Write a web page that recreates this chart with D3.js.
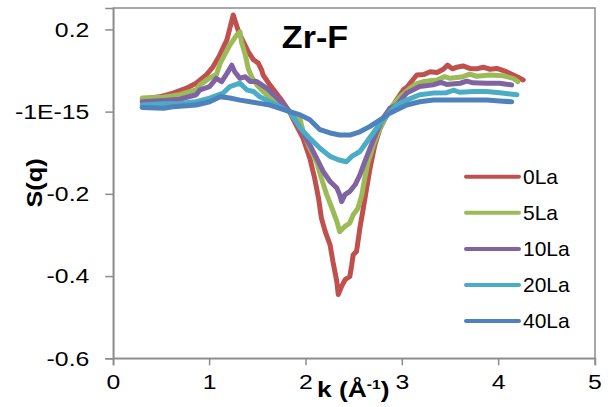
<!DOCTYPE html>
<html><head><meta charset="utf-8">
<script src="https://cdn.jsdelivr.net/npm/d3@7"></script>
<style>body{margin:0;background:#fff;} svg{display:block;font-family:"Liberation Sans",Arial,sans-serif;}</style>
</head><body>
<script>
const seriesNames = ["0La","5La","10La","20La","40La"];
const colors = ["#C0504D","#9BBB59","#8064A2","#4BACC6","#4F81BD"];
const xTicks = [0,1,2,3,4,5];
const yTicks = [0.2,0,-0.2,-0.4,-0.6];
const yTickLabels = ["0.2","-1E-15","-0.2","-0.4","-0.6"];

const k0 = [0.3,0.48,0.62,0.76,0.86,0.965,1.035,1.10,1.18,1.245,1.30,1.35,1.40,1.455,1.505,1.54,1.555,1.625,1.73,1.83,1.87,1.97,2.04,2.09,2.13,2.16,2.20,2.25,2.28,2.32,2.335,2.37,2.405,2.455,2.475,2.49,2.525,2.56,2.595,2.63,2.665,2.715,2.77,2.84,2.905,2.975,3.01,3.05,3.08,3.15,3.22,3.29,3.36,3.425,3.47,3.52,3.565,3.63,3.70,3.77,3.84,3.91,3.98,4.08,4.19,4.255];
const v0 = [0.031,0.036,0.045,0.057,0.069,0.089,0.109,0.135,0.175,0.235,0.195,0.170,0.146,0.126,0.118,0.101,0.089,0.065,0.033,0.0,-0.020,-0.065,-0.113,-0.162,-0.210,-0.259,-0.292,-0.324,-0.365,-0.413,-0.445,-0.425,-0.409,-0.401,-0.373,-0.348,-0.340,-0.283,-0.235,-0.186,-0.138,-0.081,-0.040,-0.008,0.016,0.041,0.053,0.060,0.069,0.089,0.090,0.097,0.095,0.103,0.113,0.104,0.108,0.111,0.105,0.104,0.108,0.103,0.105,0.097,0.085,0.077];

const k5 = [0.3,0.52,0.69,0.80,0.86,0.90,1.00,1.07,1.11,1.21,1.28,1.315,1.33,1.37,1.40,1.435,1.49,1.59,1.70,1.83,1.94,1.97,2.04,2.11,2.16,2.215,2.27,2.32,2.35,2.405,2.455,2.49,2.54,2.58,2.61,2.645,2.70,2.77,2.84,2.905,2.975,3.08,3.15,3.22,3.36,3.44,3.495,3.63,3.70,3.77,3.91,4.05,4.15,4.20];
const v5 = [0.033,0.035,0.041,0.049,0.053,0.065,0.082,0.090,0.118,0.162,0.186,0.194,0.170,0.138,0.105,0.085,0.065,0.041,0.024,0.0,-0.020,-0.048,-0.089,-0.122,-0.162,-0.202,-0.235,-0.267,-0.292,-0.279,-0.271,-0.251,-0.235,-0.202,-0.162,-0.122,-0.081,-0.040,-0.008,0.016,0.036,0.057,0.068,0.073,0.077,0.085,0.081,0.085,0.091,0.086,0.089,0.087,0.081,0.073];

const k10 = [0.3,0.52,0.69,0.86,0.90,1.00,1.07,1.125,1.18,1.23,1.26,1.315,1.37,1.42,1.49,1.59,1.70,1.83,1.94,2.04,2.11,2.18,2.25,2.32,2.35,2.37,2.405,2.455,2.51,2.56,2.61,2.665,2.735,2.80,2.87,2.94,3.045,3.18,3.32,3.40,3.46,3.60,3.67,3.735,3.875,4.01,4.135];
const v10 = [0.024,0.027,0.030,0.041,0.053,0.061,0.081,0.073,0.093,0.113,0.097,0.081,0.085,0.073,0.073,0.057,0.033,0.0,-0.040,-0.081,-0.113,-0.146,-0.170,-0.186,-0.202,-0.219,-0.202,-0.194,-0.178,-0.154,-0.122,-0.089,-0.049,-0.016,0.008,0.016,0.045,0.061,0.065,0.071,0.066,0.069,0.074,0.070,0.069,0.069,0.065];

const k20 = [0.3,0.52,0.69,0.86,1.00,1.14,1.21,1.315,1.385,1.455,1.52,1.625,1.73,1.83,1.94,2.04,2.145,2.25,2.335,2.42,2.475,2.56,2.645,2.735,2.84,2.94,3.045,3.18,3.32,3.46,3.53,3.60,3.735,3.875,4.01,4.19];
const v20 = [0.016,0.019,0.020,0.024,0.033,0.045,0.061,0.069,0.053,0.049,0.036,0.024,0.012,0.0,-0.040,-0.065,-0.089,-0.109,-0.117,-0.122,-0.109,-0.097,-0.069,-0.040,-0.008,0.016,0.028,0.041,0.045,0.046,0.052,0.047,0.049,0.049,0.046,0.041];

const k40 = [0.3,0.52,0.62,0.86,1.00,1.11,1.21,1.315,1.42,1.52,1.625,1.73,1.83,1.94,2.04,2.145,2.25,2.35,2.455,2.56,2.665,2.77,2.87,2.975,3.045,3.18,3.32,3.46,3.60,3.735,3.875,4.01,4.135];
const v40 = [0.010,0.008,0.012,0.016,0.024,0.036,0.033,0.028,0.024,0.020,0.016,0.008,0.0,-0.008,-0.020,-0.044,-0.052,-0.057,-0.057,-0.049,-0.036,-0.020,-0.004,0.008,0.016,0.024,0.028,0.028,0.028,0.028,0.028,0.026,0.024];

const kData = [k0,k5,k10,k20,k40];
const vData = [v0,v5,v10,v20,v40];

const W = 611, H = 407;
const svg = d3.select("body").append("svg").attr("width",W).attr("height",H);
const x = d3.scaleLinear().domain([0,5]).range([113.3,595]);
const y = d3.scaleLinear().domain([-0.6,0.252]).range([358.3,8]);
const axisColor = "#8c8c8c";
const SX = 1.18;

svg.append("rect").attr("x",x(0)).attr("y",y(0.252)).attr("width",x(5)-x(0)).attr("height",y(-0.6)-y(0.252))
  .attr("fill","none").attr("stroke",axisColor).attr("stroke-width",1.5);

const yAxis = d3.axisLeft(y).tickValues(yTicks).tickSize(8).tickPadding(15)
  .tickFormat((d,i)=>yTickLabels[i]);
const gy = svg.append("g").attr("transform",`translate(${x(0)},0)`).call(yAxis);
gy.select(".domain").attr("stroke",axisColor).attr("stroke-width",1.5);
gy.selectAll(".tick line").attr("stroke",axisColor).attr("stroke-width",1.5);
gy.selectAll(".tick text").attr("font-size",21).attr("fill","#000")
  .attr("font-family","Liberation Sans, Arial, sans-serif")
  .attr("x",0).attr("transform",`translate(-24,0) scale(${SX},1)`);

const xAxis = d3.axisBottom(x).tickValues(xTicks).tickSize(7).tickPadding(9).tickFormat(d3.format("d"));
const gx = svg.append("g").attr("transform",`translate(0,${y(-0.6)})`).call(xAxis);
gx.select(".domain").attr("stroke",axisColor).attr("stroke-width",1.5);
gx.selectAll(".tick line").attr("stroke",axisColor).attr("stroke-width",1.5);
gx.selectAll(".tick text").attr("font-size",21).attr("fill","#000")
  .attr("font-family","Liberation Sans, Arial, sans-serif")
  .attr("transform",`scale(${SX},1)`).attr("x",0);
// keep x tick labels centred on their ticks after stretch
gx.selectAll(".tick").each(function(d){
  d3.select(this).attr("transform",`translate(${x(d)},0)`);
});

const line = d3.line().x(d=>x(d[0])).y(d=>y(d[1]));
seriesNames.forEach((name,i)=>{
  const pts = kData[i].map((k,j)=>[k,vData[i][j]]);
  svg.append("path").datum(pts).attr("d",line).attr("fill","none")
    .attr("stroke",colors[i]).attr("stroke-width",5).attr("stroke-linejoin","round").attr("stroke-linecap","round");
});

svg.append("text").attr("transform","translate(315,48) scale(1.1,1)").attr("text-anchor","middle")
  .attr("font-size",31).attr("font-weight","bold").text("Zr-F");

svg.append("text").attr("transform","translate(42,183) rotate(-90) scale(1.15,1)").attr("text-anchor","middle")
  .attr("font-size",22).attr("font-weight","bold").text("S(q)");

const xt = svg.append("text").attr("transform","translate(317,397) scale(1.2,1)").attr("font-size",22).attr("font-weight","bold");
xt.append("tspan").text("k (Å");
xt.append("tspan").attr("font-size",13).attr("dy",-8).text("-1");
xt.append("tspan").attr("dy",8).text(")");

const ly0 = 176.7, ldy = 36.1;
seriesNames.forEach((name,i)=>{
  const yy = ly0 + i*ldy;
  svg.append("line").attr("x1",466).attr("x2",519).attr("y1",yy).attr("y2",yy)
    .attr("stroke",colors[i]).attr("stroke-width",4).attr("stroke-linecap","round");
  svg.append("text").attr("transform",`translate(523,${yy+7}) scale(1.05,1)`).attr("font-size",20).text(name);
});
</script>
</body></html>
